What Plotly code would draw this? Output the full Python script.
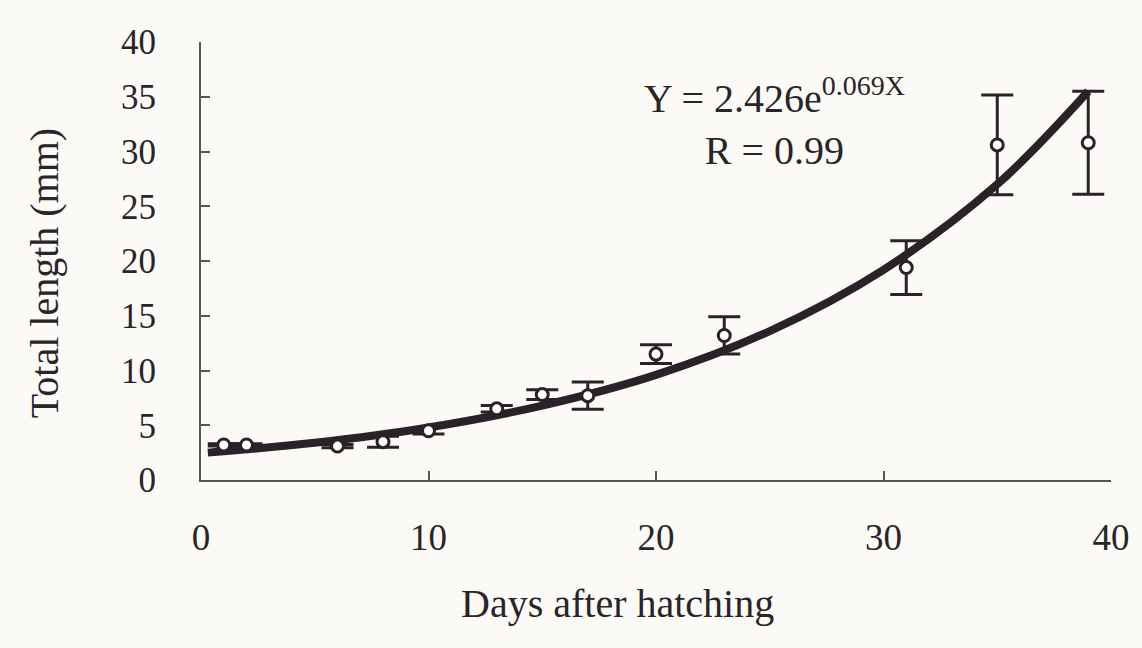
import plotly.graph_objects as go

days = [1, 2, 6, 8, 10, 13, 15, 17, 20, 23, 31, 35, 39]
total_length = [3.2, 3.2, 3.1, 3.5, 4.5, 6.5, 7.8, 7.7, 11.5, 13.2, 19.4, 30.6, 30.8]
std_err = [0.1, 0.1, 0.15, 0.5, 0.3, 0.3, 0.45, 1.25, 0.85, 1.7, 2.45, 4.55, 4.7]

# Fitted curve as drawn in the reference
curve_days = [0.3, 5, 10, 15, 20, 25, 30, 35, 39]
curve_length = [2.5, 3.4, 4.8, 6.8, 9.6, 13.6, 19.2, 27.0, 35.5]

x_ticks = [0, 10, 20, 30, 40]
y_ticks = [0, 5, 10, 15, 20, 25, 30, 35, 40]

INK = "#2b2129"
TEXT = "#2a2428"
FONT = "Liberation Serif, Times New Roman, serif"

fig = go.Figure()

fig.add_trace(go.Scatter(
    x=curve_days, y=curve_length, mode="lines",
    line=dict(color=INK, width=8, shape="spline", smoothing=1.0),
    hoverinfo="skip", showlegend=False,
))

fig.add_trace(go.Scatter(
    x=days, y=total_length, mode="markers",
    marker=dict(symbol="circle", size=12, color="white",
                line=dict(color=INK, width=3)),
    error_y=dict(type="data", array=std_err, visible=True,
                 color=INK, thickness=3, width=16),
    showlegend=False,
))

fig.update_layout(
    width=1142, height=648,
    margin=dict(l=201, r=23, t=42, b=168),
    paper_bgcolor="#fbfaf7", plot_bgcolor="#fbfaf7",
    font=dict(family=FONT, color=TEXT, size=36),
    xaxis=dict(range=[0, 40], tickvals=x_ticks, ticks="inside", ticklen=9,
               tickwidth=2, tickcolor="#555", showline=True, linecolor="#555",
               linewidth=2, showgrid=False, zeroline=False,
               tickfont=dict(size=37), ticklabelstandoff=24),
    yaxis=dict(range=[0, 40], tickvals=y_ticks, ticks="inside", ticklen=9,
               tickwidth=2, tickcolor="#555", showline=True, linecolor="#555",
               linewidth=2, showgrid=False, zeroline=False,
               tickfont=dict(size=35), ticklabelstandoff=36),
    annotations=[
        dict(text="Days after hatching", xref="paper", yref="paper",
             x=0.4575, y=-0.281, showarrow=False, font=dict(size=40),
             xanchor="center", yanchor="middle"),
        dict(text="Total length (mm)", xref="paper", yref="paper",
             x=-0.172, y=0.473, showarrow=False, font=dict(size=40),
             textangle=-90, xanchor="center", yanchor="middle"),
        dict(text="Y = 2.426e<sup>0.069X</sup><br>R = 0.99", xref="x", yref="y",
             x=25.2, y=32.7, showarrow=False, font=dict(size=40),
             xanchor="center", yanchor="middle", align="center"),
    ],
)

fig.write_html("out.html", config={"displayModeBar": False},
               post_script="document.body.style.margin='0';")
